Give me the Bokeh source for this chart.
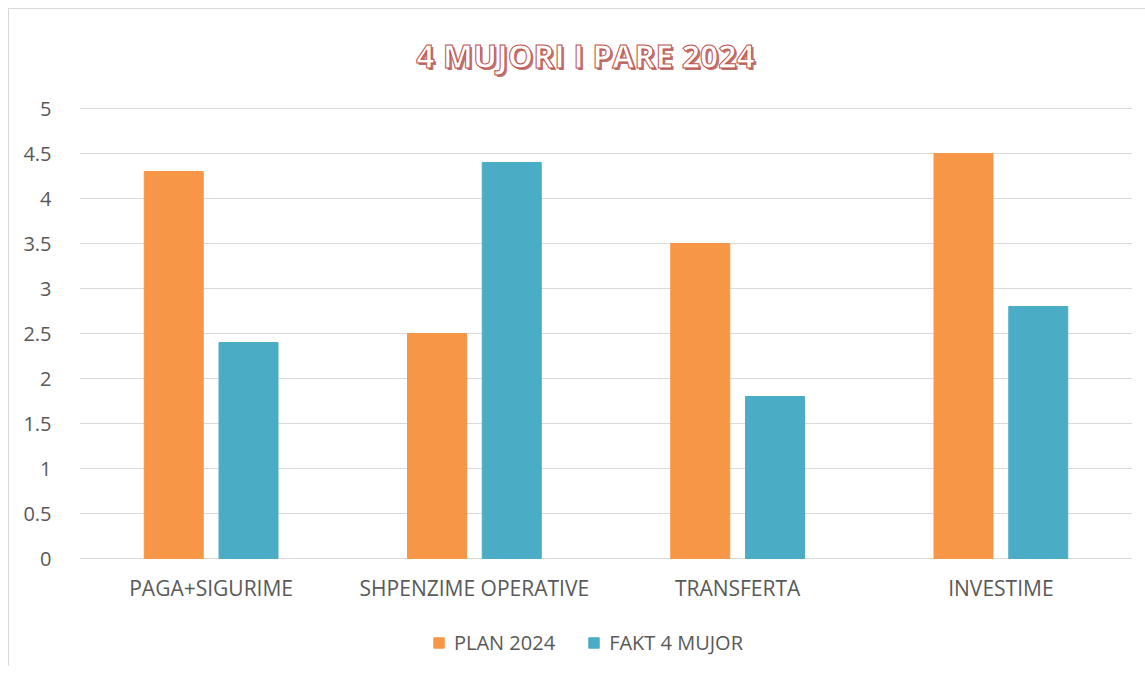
from bokeh.plotting import figure
from bokeh.models import (FactorRange, Range1d, Legend, LegendItem, Label,
                          FixedTicker, ColumnDataSource)
from bokeh.transform import dodge
from bokeh.embed import file_html
from bokeh.resources import INLINE

categories = ["PAGA+SIGURIME", "SHPENZIME OPERATIVE", "TRANSFERTA", "INVESTIME"]
plan_2024 = [4.3, 2.5, 3.5, 4.5]
fakt_4_mujor = [2.4, 4.4, 1.8, 2.8]
series_names = ["PLAN 2024", "FAKT 4 MUJOR"]
y_ticks = [0, 0.5, 1, 1.5, 2, 2.5, 3, 3.5, 4, 4.5, 5]
y_tick_labels = ["0", "0.5", "1", "1.5", "2", "2.5", "3", "3.5", "4", "4.5", "5"]
title_text = "4 MUJORI I PARE 2024"

ORANGE = "#F79646"
BLUE = "#4BACC6"
GRID = "#D9D9D9"
TXT = "#595959"
FONT = "Open Sans"

src = ColumnDataSource(dict(cat=categories, plan=plan_2024, fakt=fakt_4_mujor))
n_cat = len(categories)
grid_src = ColumnDataSource(dict(y=y_ticks, x0=[0] * len(y_ticks),
                                 x1=[n_cat] * len(y_ticks)))

# frame extends above and below the 0..5 value band so the title and legend
# can live inside it; the x axis is pinned at value 0
p = figure(x_range=FactorRange(*categories), y_range=Range1d(-1.2, 6.0),
           frame_width=1053, frame_height=648,
           min_border_left=70, min_border_right=13,
           min_border_top=9, min_border_bottom=0,
           output_backend="svg", toolbar_location=None)
p.styles = {"margin-left": "8px", "margin-top": "8px",
            "border-left": "1px solid #D9D9D9", "border-top": "1px solid #D9D9D9"}
p.outline_line_color = None
p.background_fill_color = "white"
p.border_fill_color = "white"

# horizontal gridlines across the category span (value band 0..5)
p.segment(x0="x0", x1="x1", y0="y", y1="y", source=grid_src,
          line_color=GRID, line_width=1)

r1 = p.vbar(x=dodge("cat", -0.142, range=p.x_range), top="plan", width=0.224,
            source=src, fill_color=ORANGE, line_color=ORANGE)
r2 = p.vbar(x=dodge("cat", 0.142, range=p.x_range), top="fakt", width=0.224,
            source=src, fill_color=BLUE, line_color=BLUE)

# axes
p.xgrid.grid_line_color = None
p.ygrid.grid_line_color = None
p.yaxis.ticker = FixedTicker(ticks=y_ticks)
p.yaxis.major_label_overrides = {t: l for t, l in zip(y_ticks, y_tick_labels)}
p.yaxis.axis_line_color = None
p.yaxis.major_tick_line_color = None
p.yaxis.minor_tick_line_color = None
p.yaxis.major_label_standoff = 22
p.yaxis.major_label_text_font = FONT
p.yaxis.major_label_text_font_size = "20px"
p.yaxis.major_label_text_color = TXT

p.xaxis.fixed_location = 0
p.xaxis.axis_line_color = None
p.xaxis.major_tick_line_color = None
p.xaxis.minor_tick_line_color = None
p.xaxis.major_label_standoff = 9
p.xaxis.major_label_text_font = FONT
p.xaxis.major_label_text_font_size = "21px"
p.xaxis.major_label_text_color = TXT

# title with shadow and outline
shadow = Label(x=508, y=609, x_units="screen", y_units="screen", text=title_text,
               text_align="center", text_baseline="middle", text_font=FONT,
               text_font_style="bold", text_font_size="32px", text_color="#A94540",
               text_alpha=0.75)
main = Label(x=506, y=611, x_units="screen", y_units="screen", text=title_text,
             text_align="center", text_baseline="middle", text_font=FONT,
             text_font_style="bold", text_font_size="32px", text_color="white",
             text_outline_color="#C0504D")
p.add_layout(shadow)
p.add_layout(main)

legend = Legend(items=[LegendItem(label=series_names[0], renderers=[r1]),
                       LegendItem(label=series_names[1], renderers=[r2])],
                orientation="horizontal", location=(353, 10),
                padding=0, margin=0, spacing=32, glyph_width=13, glyph_height=13,
                label_standoff=9, border_line_color=None, background_fill_alpha=0,
                label_text_font=FONT, label_text_font_size="20px",
                label_text_color=TXT)
p.add_layout(legend, "center")

open("out.html", "w").write(file_html(p, INLINE))
